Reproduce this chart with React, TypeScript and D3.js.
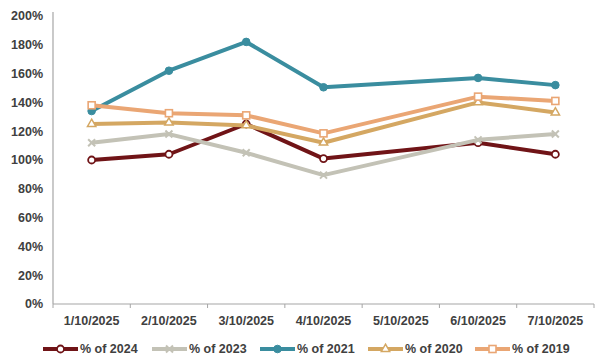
import React from "react";
import * as d3 from "d3";

const categories = ["1/10/2025", "2/10/2025", "3/10/2025", "4/10/2025", "5/10/2025", "6/10/2025", "7/10/2025"];
const yTicks = [0, 20, 40, 60, 80, 100, 120, 140, 160, 180, 200];

const s2024 = [100, 104, 125, 101, null, 112, 104];
const s2023 = [112, 118, 105, 89.5, null, 114, 118];
const s2021 = [134, 162, 182, 150.5, null, 157, 152];
const s2020 = [125, 126, 124, 112, null, 140, 133];
const s2019 = [138, 132.5, 131, 118.5, null, 144, 141];

const seriesNames = ["% of 2024", "% of 2023", "% of 2021", "% of 2020", "% of 2019"];
const seriesValues = [s2024, s2023, s2021, s2020, s2019];
const seriesColors = ["#701417", "#c3c2b6", "#3a8d9f", "#d4a762", "#eaa674"];
const seriesMarkers = ["circle", "cross", "dot", "triangle", "square"];

const W = 600, H = 362;
const left = 53, right = 594, top = 16, bottom = 304;

function Marker({ type, x, y, color }: { type: string; x: number; y: number; color: string }) {
  if (type === "circle") return <circle cx={x} cy={y} r={3.5} fill="#fff" stroke={color} strokeWidth={1.8} />;
  if (type === "dot") return <circle cx={x} cy={y} r={3.8} fill={color} stroke={color} strokeWidth={1} />;
  if (type === "square") return <rect x={x - 3.5} y={y - 3.5} width={7} height={7} fill="#fff" stroke={color} strokeWidth={1.6} />;
  if (type === "triangle") {
    const p = d3.symbol().type(d3.symbolTriangle).size(30)();
    return <path d={p || ""} transform={`translate(${x},${y})`} fill="#fff" stroke={color} strokeWidth={1.5} />;
  }
  if (type === "cross") {
    return (
      <g stroke={color} strokeWidth={2}>
        <line x1={x - 3.5} y1={y - 3.5} x2={x + 3.5} y2={y + 3.5} />
        <line x1={x - 3.5} y1={y + 3.5} x2={x + 3.5} y2={y - 3.5} />
      </g>
    );
  }
  return null;
}

export default function App() {
  const x = d3.scaleBand<string>().domain(categories).range([left, right]);
  const y = d3.scaleLinear().domain([0, 200]).range([bottom, top]);
  const cx = (c: string) => (x(c) || 0) + x.bandwidth() / 2;

  const legendX = [43, 152, 260, 368, 475];

  return (
    <svg width={W} height={H} style={{ position: "absolute", left: 0, top: 0, background: "#fff" }}
      fontFamily="'Liberation Sans', Arial, sans-serif">
      <line x1={left} y1={top - 4} x2={left} y2={bottom} stroke="#a6a6a6" strokeWidth={1.2} />
      <line x1={left} y1={bottom} x2={right} y2={bottom} stroke="#a6a6a6" strokeWidth={1.2} />
      {categories.map((c, i) => (
        <line key={"t" + i} x1={x(c)} x2={x(c)} y1={bottom} y2={bottom + 4} stroke="#a6a6a6" />
      ))}
      <line x1={right} x2={right} y1={bottom} y2={bottom + 4} stroke="#a6a6a6" />
      {yTicks.map((t) => (
        <text key={"y" + t} x={43} y={y(t)} dy="0.35em" textAnchor="end" fontSize={12.5} fontWeight="bold" fill="#404040">
          {t}%
        </text>
      ))}
      {categories.map((c) => (
        <text key={"x" + c} x={cx(c)} y={321} dy="0.35em" textAnchor="middle" fontSize={12.5} fontWeight="bold" fill="#404040">
          {c}
        </text>
      ))}
      {seriesValues.map((vals, si) => {
        const pts = vals
          .map((v, i) => (v == null ? null : [cx(categories[i]), y(v)] as [number, number]))
          .filter((p) => p != null) as [number, number][];
        const line = d3.line()(pts) || "";
        return (
          <g key={"s" + si}>
            <path d={line} fill="none" stroke={seriesColors[si]} strokeWidth={4} strokeLinejoin="round" />
            {pts.map((p, i) => (
              <Marker key={i} type={seriesMarkers[si]} x={p[0]} y={p[1]} color={seriesColors[si]} />
            ))}
          </g>
        );
      })}
      {seriesNames.map((n, i) => (
        <g key={"l" + i}>
          <line x1={legendX[i]} x2={legendX[i] + 35} y1={349} y2={349} stroke={seriesColors[i]} strokeWidth={4} />
          <Marker type={seriesMarkers[i]} x={legendX[i] + 17.5} y={349} color={seriesColors[i]} />
          <text x={legendX[i] + 37} y={349} dy="0.35em" fontSize={12.5} fontWeight="bold" fill="#404040">
            {n}
          </text>
        </g>
      ))}
    </svg>
  );
}
